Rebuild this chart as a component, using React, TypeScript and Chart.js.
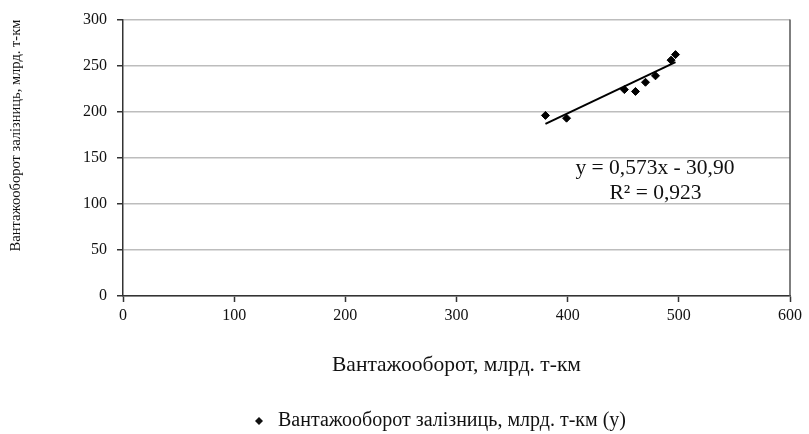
import React, { useEffect, useRef } from "react";
import { Chart, registerables } from "chart.js";

Chart.register(...registerables);

const xValues: number[] = [380, 399, 451, 461, 470, 479, 493, 497];
const yValues: number[] = [196, 193, 224, 222, 232, 239, 256, 262];
const trendSlope = 0.573;
const trendIntercept = -30.9;
const seriesLabel = "Вантажооборот залізниць, млрд. т-км (у)";
const xTitle = "Вантажооборот, млрд. т-км";
const yTitle = "Вантажооборот залізниць, млрд. т-км";
const equationText = "y = 0,573x - 30,90";
const r2Text = "R² = 0,923";

const FONT = "'Liberation Serif', 'Times New Roman', serif";

export default function App() {
  const ref = useRef<HTMLCanvasElement | null>(null);

  useEffect(() => {
    document.body.style.margin = "0";
    const canvas = ref.current;
    if (!canvas) return;

    const points = xValues.map((x, i) => ({ x, y: yValues[i] }));
    const xMin = Math.min(...xValues);
    const xMax = Math.max(...xValues);
    const trend = [
      { x: xMin, y: trendSlope * xMin + trendIntercept },
      { x: xMax, y: trendSlope * xMax + trendIntercept },
    ];

    const decor = {
      id: "decor",
      afterDraw(chart: any) {
        const ctx = chart.ctx;
        const a = chart.chartArea;
        const xs = chart.scales.x;
        const ys = chart.scales.y;
        ctx.save();
        // right frame
        ctx.strokeStyle = "#555";
        ctx.lineWidth = 1.5;
        ctx.beginPath();
        ctx.moveTo(a.right, a.top);
        ctx.lineTo(a.right, a.bottom);
        ctx.stroke();
        // equation
        ctx.fillStyle = "#111";
        ctx.font = `21.5px ${FONT}`;
        ctx.textBaseline = "middle";
        ctx.textAlign = "right";
        ctx.fillText(equationText, xs.getPixelForValue(550), ys.getPixelForValue(138.7));
        ctx.textAlign = "center";
        ctx.fillText(r2Text, xs.getPixelForValue(479), ys.getPixelForValue(111.5));
        // legend
        const lx = 259;
        const ly = 421;
        const s = 4;
        ctx.beginPath();
        ctx.moveTo(lx, ly - s);
        ctx.lineTo(lx + s, ly);
        ctx.lineTo(lx, ly + s);
        ctx.lineTo(lx - s, ly);
        ctx.closePath();
        ctx.fill();
        ctx.font = `20px ${FONT}`;
        ctx.textAlign = "left";
        ctx.fillText(seriesLabel, 278, ly);
        ctx.restore();
      },
    };

    const chart = new Chart(canvas, {
      type: "scatter",
      data: {
        datasets: [
          {
            label: seriesLabel,
            data: points,
            backgroundColor: "#000",
            borderColor: "#000",
            pointStyle: "rectRot",
            pointRadius: 4,
          },
          {
            type: "line",
            label: "trend",
            data: trend,
            borderColor: "#000",
            borderWidth: 2,
            pointRadius: 0,
            showLine: true,
            fill: false,
          } as any,
        ],
      },
      options: {
        animation: false,
        responsive: false,
        maintainAspectRatio: false,
        layout: { padding: { left: 0, top: 19, right: 19, bottom: 50 } },
        plugins: {
          legend: { display: false },
          tooltip: { enabled: false },
        },
        scales: {
          x: {
            type: "linear",
            min: 0,
            max: 600,
            ticks: {
              stepSize: 100,
              color: "#111",
              padding: 4,
              font: { family: FONT, size: 16 },
            },
            grid: {
              drawOnChartArea: false,
              tickLength: 6,
              tickColor: "#333",
              tickWidth: 1.5,
            },
            border: { color: "#333", width: 1.5 },
            title: {
              display: true,
              text: xTitle,
              color: "#111",
              font: { family: FONT, size: 21.5 },
              padding: { top: 4, bottom: 6 },
            },
            afterFit(scale: any) {
              scale.height = 434 - 296 - 50;
            },
          },
          y: {
            type: "linear",
            min: 0,
            max: 300,
            ticks: {
              stepSize: 50,
              color: "#111",
              padding: 10,
              font: { family: FONT, size: 16 },
            },
            grid: {
              color: "#bdbdbd",
              lineWidth: 1.5,
              tickLength: 6,
              tickColor: "#333",
              tickWidth: 1.5,
            },
            border: { color: "#333", width: 1.5 },
            title: {
              display: true,
              text: yTitle,
              align: "end",
              color: "#111",
              font: { family: FONT, size: 14.5 },
              padding: { top: 7, bottom: 4 },
            },
            afterFit(scale: any) {
              scale.width = 123;
            },
          },
        },
      },
      plugins: [decor],
    });

    return () => chart.destroy();
  }, []);

  return (
    <div style={{ width: 809, height: 434 }}>
      <canvas ref={ref} width={809} height={434} style={{ display: "block" }} />
    </div>
  );
}
